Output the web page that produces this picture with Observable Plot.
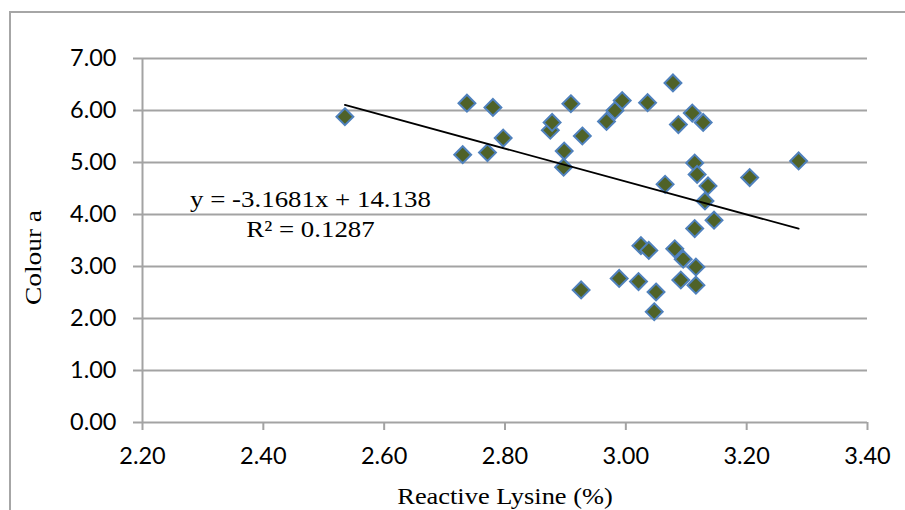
<!DOCTYPE html>
<html>
<head>
<meta charset="utf-8">
<script src="https://cdn.jsdelivr.net/npm/d3@7"></script>
<script src="https://cdn.jsdelivr.net/npm/@observablehq/plot@0.6"></script>
<style>
  html, body { margin: 0; padding: 0; background: #fff; }
  #chart { position: relative; width: 905px; height: 510px; overflow: hidden; }
  #chart svg { display: block; }
  /* chart-area outline (left and top edges of the embedded chart box) */
  #chart .box {
    position: absolute; left: 9px; top: 11px; right: -10px; bottom: -10px;
    border-left: 2px solid #a6a6a6; border-top: 2px solid #a6a6a6;
    pointer-events: none;
  }
</style>
</head>
<body>
<div id="chart"><div class="box"></div></div>
<script>
// Reactive lysine (%) vs colour a*
const lysine = [
  2.535, 2.737, 2.780, 2.730, 2.771, 2.797, 2.875, 2.878, 2.909, 2.898,
  2.897, 2.928, 2.968, 2.982, 2.994, 3.036, 3.078, 3.110, 3.087, 3.128,
  3.114, 3.118, 3.065, 3.136, 3.131, 3.146, 3.114, 3.205, 3.286, 3.025,
  3.038, 3.081, 3.095, 3.116, 2.989, 3.021, 3.091, 3.116, 2.926, 3.050,
  3.047
];
const colourA = [
  5.88, 6.14, 6.06, 5.15, 5.19, 5.47, 5.62, 5.77, 6.13, 5.22,
  4.91, 5.51, 5.79, 6.00, 6.19, 6.15, 6.53, 5.95, 5.73, 5.77,
  4.99, 4.77, 4.58, 4.55, 4.26, 3.89, 3.73, 4.71, 5.03, 3.40,
  3.31, 3.34, 3.14, 2.99, 2.77, 2.71, 2.74, 2.64, 2.55, 2.51,
  2.13
];
const xTicks = [2.2, 2.4, 2.6, 2.8, 3.0, 3.2, 3.4];
const yTicks = [0, 1, 2, 3, 4, 5, 6, 7];

// linear trendline
const slope = -3.1681;
const intercept = 14.138;
const rSquared = 0.1287;

const xLabel = "Reactive Lysine (%)";
const yLabel = "Colour a";
const eqText = `y = ${slope}x + ${intercept}`;
const r2Text = `R\u00B2 = ${rSquared}`;

const points = lysine.map((x, i) => ({x, y: colourA[i]}));
const trend = d3.extent(lysine).map(x => ({x, y: slope * x + intercept}));

const gridColor = "#a3a3a3";
const sans = "Lato, 'Open Sans', sans-serif";
const serif = "'Liberation Serif', 'Times New Roman', serif";
const fmt = d3.format(".2f");

const plot = Plot.plot({
  width: 905,
  height: 510,
  marginLeft: 142,
  marginRight: 38,
  marginTop: 58,
  marginBottom: 88,
  style: {background: "transparent"},
  x: {domain: [2.2, 3.4]},
  y: {domain: [0, 7]},
  marks: [
    Plot.gridY({ticks: yTicks, stroke: gridColor, strokeOpacity: 1, strokeWidth: 2}),
    Plot.ruleX([2.2], {y1: 0, y2: 7, stroke: gridColor, strokeWidth: 2}),
    Plot.axisY({
      ticks: yTicks, tickFormat: fmt, tickSize: 9, tickPadding: 17,
      stroke: gridColor, strokeWidth: 2, fill: "#000",
      fontSize: 23.5, fontFamily: sans, label: null
    }),
    Plot.axisX({
      ticks: xTicks, tickFormat: fmt, tickSize: 8, tickPadding: 17,
      stroke: gridColor, strokeWidth: 2, fill: "#000",
      fontSize: 23.5, fontFamily: sans, label: null
    }),
    Plot.dot(points, {
      x: "x", y: "y", symbol: "diamond2", r: 7.6,
      fill: "#4f6228", stroke: "#4f81bd", strokeWidth: 2
    }),
    Plot.line(trend, {x: "x", y: "y", stroke: "#000", strokeWidth: 1.8}),
    Plot.text([eqText], {
      x: 2.478, y: 4.135, textAnchor: "middle", lineAnchor: "bottom",
      fontFamily: serif, fontSize: 24, fill: "#000"
    }),
    Plot.text([r2Text], {
      x: 2.478, y: 3.558, textAnchor: "middle", lineAnchor: "bottom",
      fontFamily: serif, fontSize: 24, fill: "#000"
    }),
    Plot.text([xLabel], {
      frameAnchor: "bottom", dy: 81, textAnchor: "middle", lineAnchor: "bottom",
      fontFamily: serif, fontSize: 24, fill: "#000"
    }),
    Plot.text([yLabel], {
      frameAnchor: "left", dx: -102, dy: 17, rotate: -90,
      textAnchor: "middle", lineAnchor: "bottom",
      fontFamily: serif, fontSize: 24, fill: "#000"
    })
  ]
});

document.getElementById("chart").prepend(plot);

// the serif labels are set wide: scale their glyphs along the reading direction
const widen = new Map([[eqText, 1.12], [r2Text, 1.12], [xLabel, 1.1], [yLabel, 1.14]]);
d3.select(plot).selectAll("text").each(function () {
  const k = widen.get(this.textContent);
  if (!k) return;
  let t = this.getAttribute("transform") || "";
  if (this.hasAttribute("x") || this.hasAttribute("y")) {
    const x = +this.getAttribute("x") || 0, y = +this.getAttribute("y") || 0;
    this.removeAttribute("x");
    this.removeAttribute("y");
    t = `${t} translate(${x},${y})`;
  }
  this.setAttribute("transform", `${t} scale(${k},1)`);
});
</script>
</body>
</html>
